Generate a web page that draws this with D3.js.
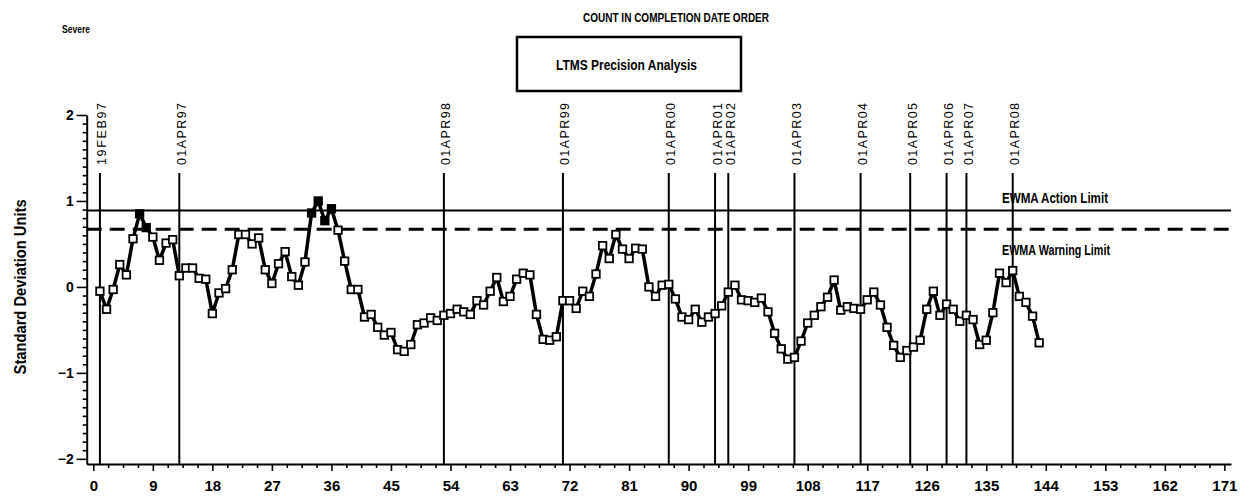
<!DOCTYPE html>
<html>
<head>
<meta charset="utf-8">
<script src="https://cdn.jsdelivr.net/npm/d3@7"></script>
<style>
  html, body { margin: 0; padding: 0; background: #fff; }
  svg { display: block; }
  .cond { font-family: "Liberation Sans Narrow", "Liberation Sans", Arial, sans-serif; font-weight: bold; }
  .tick text { font-family: "Liberation Sans Narrow", "Liberation Sans", Arial, sans-serif; font-weight: bold; }
</style>
</head>
<body>
<svg id="chart" width="1250" height="502"></svg>
<script>
// Test sequence (count in completion date order) and EWMA values in SD units
const testCount = d3.range(1, 144);
const ewmaValues = [
  -0.05, -0.26, -0.03, 0.26, 0.14, 0.56, 0.85, 0.69, 0.58, 0.31,
  0.51, 0.55, 0.13, 0.22, 0.22, 0.10, 0.09, -0.31, -0.07, -0.02,
  0.20, 0.61, 0.61, 0.50, 0.57, 0.20, 0.04, 0.27, 0.41, 0.12,
  0.02, 0.29, 0.86, 1.00, 0.77, 0.91, 0.66, 0.30, -0.03, -0.03,
  -0.35, -0.32, -0.47, -0.56, -0.53, -0.73, -0.75, -0.67, -0.44, -0.42,
  -0.36, -0.39, -0.33, -0.31, -0.26, -0.29, -0.32, -0.16, -0.21, -0.05,
  0.11, -0.17, -0.11, 0.09, 0.16, 0.14, -0.32, -0.61, -0.62, -0.58,
  -0.16, -0.16, -0.25, -0.05, -0.11, 0.15, 0.48, 0.33, 0.61, 0.44,
  0.33, 0.45, 0.44, 0.00, -0.11, 0.02, 0.03, -0.14, -0.35, -0.38,
  -0.26, -0.41, -0.35, -0.31, -0.22, -0.06, 0.02, -0.15, -0.16, -0.18,
  -0.13, -0.29, -0.54, -0.72, -0.84, -0.82, -0.63, -0.42, -0.33, -0.23,
  -0.12, 0.08, -0.27, -0.23, -0.25, -0.26, -0.15, -0.06, -0.21, -0.47,
  -0.68, -0.82, -0.74, -0.70, -0.62, -0.26, -0.05, -0.33, -0.20, -0.26,
  -0.40, -0.33, -0.38, -0.67, -0.62, -0.30, 0.16, 0.05, 0.19, -0.11,
  -0.18, -0.34, -0.65
];

// Date reference lines (test count at each date)
const refDates = ["19FEB97", "01APR97", "01APR98", "01APR99", "01APR00", "01APR01",
  "01APR02", "01APR03", "01APR04", "01APR05", "01APR06", "01APR07", "01APR08"];
const refCounts = [1, 13, 53, 71, 87, 94, 96, 106, 116, 123.5, 129, 132, 139];

// Control limits
const actionLimit = 0.89;
const warningLimit = 0.67;

const xTicks = d3.range(0, 172, 9);
const yTicks = [-2, -1, 0, 1, 2];

const svg = d3.select("#chart");

const x = d3.scaleLinear().domain([-1, 172]).range([86.7, 1231]);
const y = d3.scaleLinear().domain([-2.06, 2]).range([464, 115]);

// Titles
svg.append("text").attr("class", "cond")
  .attr("x", 583).attr("y", 22)
  .attr("textLength", 186).attr("lengthAdjust", "spacingAndGlyphs")
  .style("font-size", "12px")
  .text("COUNT IN COMPLETION DATE ORDER");

svg.append("text").attr("class", "cond")
  .attr("x", 62).attr("y", 33)
  .attr("textLength", 28).attr("lengthAdjust", "spacingAndGlyphs")
  .style("font-size", "10px")
  .text("Severe");

svg.append("rect")
  .attr("x", 517).attr("y", 37).attr("width", 224).attr("height", 54)
  .attr("fill", "none").attr("stroke", "#000").attr("stroke-width", 2.5);

svg.append("text").attr("class", "cond")
  .attr("x", 556).attr("y", 70)
  .attr("textLength", 141).attr("lengthAdjust", "spacingAndGlyphs")
  .style("font-size", "15px")
  .text("LTMS Precision Analysis");

// Y axis title
svg.append("text").attr("class", "cond")
  .attr("transform", `translate(26, ${y(0)}) rotate(-90)`)
  .attr("text-anchor", "middle")
  .attr("textLength", 175).attr("lengthAdjust", "spacingAndGlyphs")
  .style("font-size", "16px")
  .text("Standard Deviation Units");

// Axes
const xAxis = svg.append("g")
  .attr("transform", `translate(0, ${y.range()[0]})`)
  .call(d3.axisBottom(x).tickValues(xTicks).tickSize(7).tickSizeOuter(0).tickPadding(9)
    .tickFormat(d3.format("d")));

const xMinor = svg.append("g")
  .attr("transform", `translate(0, ${y.range()[0]})`)
  .call(d3.axisBottom(x)
    .tickValues(d3.range(0, 172, 2.25).filter(v => v % 9 !== 0))
    .tickSize(4).tickSizeOuter(0).tickFormat(""));
xMinor.select(".domain").remove();

const yAxis = svg.append("g")
  .attr("transform", `translate(${x.range()[0]}, 0)`)
  .call(d3.axisLeft(y).tickValues(yTicks).tickSize(10).tickSizeOuter(0).tickPadding(3)
    .tickFormat(d => d < 0 ? "\u2212" + Math.abs(d) : d));

const yMinor = svg.append("g")
  .attr("transform", `translate(${x.range()[0]}, 0)`)
  .call(d3.axisLeft(y)
    .tickValues(d3.range(-20, 21).map(v => v / 10).filter(v => Math.abs(v % 1) > 1e-9))
    .tickSize(4).tickSizeOuter(0).tickFormat(""));
yMinor.select(".domain").remove();

svg.selectAll(".domain").attr("stroke-width", 2);
svg.selectAll(".tick line").attr("stroke-width", 1.6);
xAxis.selectAll(".tick text").style("font-size", "15px").attr("fill", "#000");
yAxis.selectAll(".tick text").style("font-size", "14px").attr("fill", "#000");

// Limit lines
svg.append("line")
  .attr("x1", x.range()[0]).attr("x2", x.range()[1])
  .attr("y1", y(actionLimit)).attr("y2", y(actionLimit))
  .attr("stroke", "#000").attr("stroke-width", 2);

svg.append("line")
  .attr("x1", x.range()[0]).attr("x2", x.range()[1])
  .attr("y1", y(warningLimit)).attr("y2", y(warningLimit))
  .attr("stroke", "#000").attr("stroke-width", 3)
  .attr("stroke-dasharray", "15,8");

svg.append("text").attr("class", "cond")
  .attr("x", 1002).attr("y", 203)
  .attr("textLength", 106).attr("lengthAdjust", "spacingAndGlyphs")
  .style("font-size", "14px")
  .text("EWMA Action Limit");

svg.append("text").attr("class", "cond")
  .attr("x", 1002).attr("y", 255)
  .attr("textLength", 108).attr("lengthAdjust", "spacingAndGlyphs")
  .style("font-size", "14px")
  .text("EWMA Warning Limit");

// Date reference lines with labels
const refs = svg.append("g");
refCounts.forEach((c, i) => {
  refs.append("line")
    .attr("x1", x(c)).attr("x2", x(c))
    .attr("y1", 173).attr("y2", y.range()[0])
    .attr("stroke", "#000").attr("stroke-width", 2);
  refs.append("text")
    .attr("transform", `translate(${x(c) + 2}, 165) rotate(-90)`)
    .attr("dy", "0.36em")
    .attr("textLength", 62).attr("lengthAdjust", "spacing")
    .style("font-family", "'Liberation Sans', Arial, sans-serif")
    .style("font-size", "12.5px")
    .text(refDates[i]);
});

// EWMA series
const pts = testCount.map((c, i) => ({ c, v: ewmaValues[i] }));

svg.append("path")
  .datum(pts)
  .attr("fill", "none")
  .attr("stroke", "#000")
  .attr("stroke-width", 3.5)
  .attr("stroke-linejoin", "round")
  .attr("d", d3.line().x(d => x(d.c)).y(d => y(d.v)));

const s = 7.5;
svg.append("g").selectAll("rect")
  .data(pts)
  .join("rect")
  .attr("x", d => x(d.c) - s / 2)
  .attr("y", d => y(d.v) - s / 2)
  .attr("width", s).attr("height", s)
  .attr("fill", d => d.v > warningLimit ? "#000" : "#fff")
  .attr("stroke", "#000")
  .attr("stroke-width", 1.8);
</script>
</body>
</html>
